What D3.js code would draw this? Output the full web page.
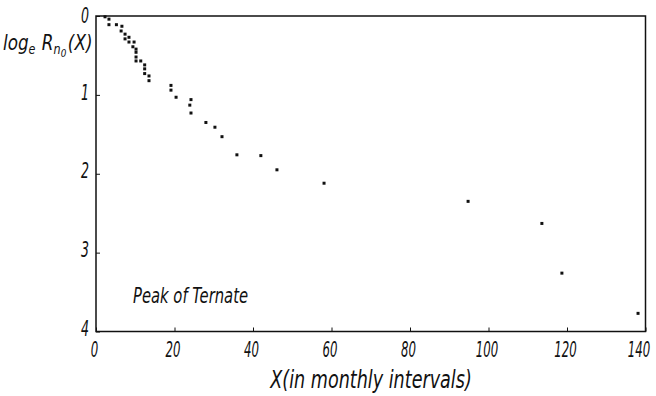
<!DOCTYPE html>
<html>
<head>
<meta charset="utf-8">
<script src="https://cdn.jsdelivr.net/npm/d3@7"></script>
<style>
  html, body { margin: 0; padding: 0; background: #fff; }
  svg { display: block; }
  .lab { font-family: "DejaVu Sans", sans-serif; font-style: italic; fill: #111; }
</style>
</head>
<body>
<svg id="chart" width="656" height="396"></svg>
<script>
// Elapsed months X and log_e R_n0(X), Peak of Ternate
const months = [2.3, 3.3, 3.3, 5.2, 6.6, 6.4, 7.4, 8.4, 7.4, 8.4, 9.7, 9.4, 10.2, 10.2, 10.2, 10.2, 11.4, 12.4, 12.4, 12.4, 13.5, 13.5,
                19.1, 19.1, 20.4, 24.2, 23.9, 24.2, 28.0, 30.3, 32.1, 35.9, 42.0, 46.1, 58.1, 94.8, 113.6, 118.7, 138.1];
const logR = [0.01, 0.04, 0.11, 0.11, 0.13, 0.19, 0.23, 0.27, 0.29, 0.33, 0.33, 0.39, 0.42, 0.46, 0.52, 0.57, 0.57, 0.62, 0.67, 0.73, 0.76, 0.82,
              0.88, 0.94, 1.03, 1.06, 1.13, 1.23, 1.35, 1.41, 1.53, 1.76, 1.77, 1.95, 2.12, 2.35, 2.63, 3.26, 3.77];
const xTicks = [0, 20, 40, 60, 80, 100, 120, 140];
const yTicks = [0, 1, 2, 3, 4];

const svg = d3.select("#chart");
const x = d3.scaleLinear().domain([0, 140]).range([96, 645.5]);
const y = d3.scaleLinear().domain([0, 4]).range([16, 331.5]);

const SX = 0.56; // horizontal squeeze giving the condensed lettering

// plot frame
svg.append("rect")
  .attr("x", x(0)).attr("y", y(0))
  .attr("width", x(140) - x(0)).attr("height", y(4) - y(0))
  .attr("fill", "none").attr("stroke", "#111").attr("stroke-width", 1.5);

// bottom axis: inward ticks, labels below
const xAxis = d3.axisBottom(x).tickValues(xTicks).tickSize(-4).tickPadding(11)
  .tickFormat(d3.format("d"));
const gx = svg.append("g").attr("transform", `translate(0,${y(4)})`).call(xAxis);
gx.select(".domain").remove();
gx.selectAll("line").attr("stroke", "#111");
gx.selectAll("text").attr("class", "lab").attr("font-size", 21).attr("fill", "#111")
  .attr("transform", `scale(${SX},1)`)
  .attr("x", d => (d === 140 ? -7 : -2) / SX);

// left axis: inward ticks, labels to the left
const yAxis = d3.axisLeft(y).tickValues(yTicks).tickSize(-4).tickPadding(7)
  .tickFormat(d3.format("d"));
const gy = svg.append("g").attr("transform", `translate(${x(0)},0)`).call(yAxis);
gy.select(".domain").remove();
gy.selectAll("line").attr("stroke", "#111");
gy.selectAll("text").attr("class", "lab").attr("font-size", 21).attr("fill", "#111")
  .attr("transform", `scale(${SX * 1.07},1)`)
  .attr("x", -7 / (SX * 1.07))
  .attr("dy", d => d === 0 ? "0.3em" : "0.2em");

// observations
const pts = months.map((m, i) => ({ m, v: logR[i] }));
svg.append("g").selectAll("rect").data(pts).join("rect")
  .attr("x", d => x(d.m) - 1.5).attr("y", d => y(d.v) - 1.5)
  .attr("width", 3).attr("height", 3).attr("fill", "#111");

// y-axis title: log_e R_{n_0}(X)
const yt = svg.append("g").attr("transform", "translate(3,50) scale(0.8,1)")
  .append("text").attr("class", "lab").attr("font-size", 21);
yt.append("tspan").text("log");
yt.append("tspan").attr("font-size", 14).attr("dy", 4).text("e");
yt.append("tspan").attr("dy", -4).attr("dx", 8).text("R");
yt.append("tspan").attr("font-size", 14).attr("dy", 4).text("n");
yt.append("tspan").attr("font-size", 11).attr("dy", 3).text("0");
yt.append("tspan").attr("dy", -7).attr("dx", 2).text("(X)");

// x-axis title
svg.append("g").attr("transform", "translate(371,388) scale(0.733,1)")
  .append("text").attr("class", "lab")
  .attr("text-anchor", "middle").attr("font-size", 24)
  .text("X(in monthly intervals)");

// panel caption
svg.append("g").attr("transform", "translate(133,303) scale(0.705,1)")
  .append("text").attr("class", "lab").attr("font-size", 21)
  .text("Peak of Ternate");
</script>
</body>
</html>
